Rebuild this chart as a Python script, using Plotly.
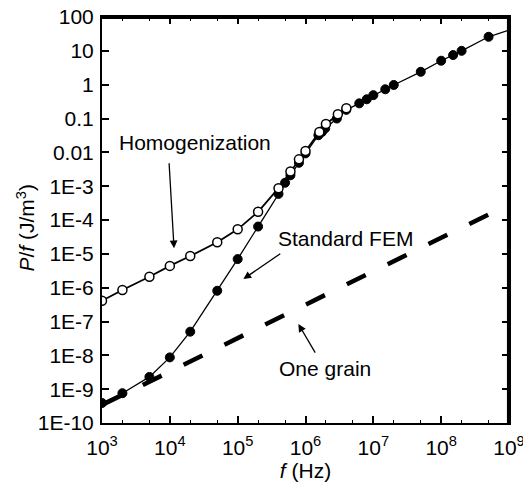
import plotly.graph_objects as go

# Homogenization (open circles)
homog_f = [1e3, 2e3, 5e3, 1e4, 2e4, 5e4, 1e5, 2e5, 4e5, 6e5, 8e5, 1e6, 1.6e6, 2e6, 3e6, 4e6]
homog_p = [4.1e-7, 8.5e-7, 2.1e-6, 4.4e-6, 8.6e-6, 2.2e-5, 5.3e-5, 1.75e-4, 8.7e-4, 2.7e-3,
           6.2e-3, 0.011, 0.04, 0.069, 0.133, 0.2]

# Standard FEM (filled circles)
fem_f = [1e3, 2e3, 5e3, 1e4, 2e4, 5e4, 1e5, 2e5, 4e5, 5e5, 6e5, 8e5, 1e6, 1.55e6, 1.75e6, 1.95e6,
         2.9e6, 4e6, 6.2e6, 8e6, 1e7, 1.5e7, 2e7, 5e7, 1e8, 1.5e8, 2e8, 5e8, 1e9]
fem_p = [3.9e-10, 7.6e-10, 2.3e-9, 8.7e-9, 5e-8, 8.1e-7, 7e-6, 6.4e-5, 5.9e-4, 1.26e-3, 2.1e-3,
         4.9e-3, 9.3e-3, 0.032, 0.04, 0.051, 0.1, 0.18, 0.28, 0.37, 0.49, 0.73, 0.98, 2.4, 5.1,
         7.5, 10, 26, 41]

# One grain (dashed)
grain_f = [1e3, 1e9]
grain_p = [3.4e-10, 2.9e-4]

y_tickvals = [1e2, 1e1, 1, 0.1, 0.01, 1e-3, 1e-4, 1e-5, 1e-6, 1e-7, 1e-8, 1e-9, 1e-10]
y_ticktext = ["100", "10", "1", "0.1", "0.01", "1E-3", "1E-4", "1E-5", "1E-6", "1E-7",
              "1E-8", "1E-9", "1E-10"]
x_tickvals = [1e3, 1e4, 1e5, 1e6, 1e7, 1e8, 1e9]
x_ticktext = ["10<sup>3</sup>", "10<sup>4</sup>", "10<sup>5</sup>", "10<sup>6</sup>",
              "10<sup>7</sup>", "10<sup>8</sup>", "10<sup>9</sup>"]

FONT = "Liberation Sans, Arial, sans-serif"
fig = go.Figure()

fig.add_trace(go.Scatter(x=grain_f, y=grain_p, mode="lines",
                         line=dict(color="black", width=4.5, dash="21px,24.5px"),
                         showlegend=False))
fig.add_trace(go.Scatter(x=fem_f, y=fem_p, mode="lines+markers",
                         line=dict(color="black", width=1.3),
                         marker=dict(color="black", opacity=1,
                                     size=[9] * (len(fem_f) - 1) + [0],
                                     line=dict(color="black", width=1)),
                         showlegend=False))
fig.add_trace(go.Scatter(x=homog_f, y=homog_p, mode="lines+markers", xaxis="x2", yaxis="y2",
                         line=dict(color="black", width=1.8),
                         marker=dict(color="white", opacity=1, size=9,
                                     line=dict(color="black", width=1.5)),
                         showlegend=False))

axis_common = dict(type="log", showgrid=False, zeroline=False, showline=True,
                   linecolor="black", linewidth=2, ticks="inside",
                   ticklen=7, tickwidth=1.5, tickcolor="black", automargin=False,
                   ticklabeloverflow="allow",
                   minor=dict(ticks="inside", ticklen=3.5, tickwidth=1, tickcolor="black",
                              showgrid=False),
                   tickfont=dict(family=FONT, size=21, color="black"))

fig.update_layout(
    xaxis=dict(**axis_common, range=[3, 9], tickvals=x_tickvals, ticktext=x_ticktext,
               ticklabelstandoff=5,
               title=dict(text="<i>f</i> (Hz)",
                          font=dict(family=FONT, size=21, color="black"), standoff=8)),
    yaxis=dict(**axis_common, range=[-10, 2], tickvals=y_tickvals, ticktext=y_ticktext,
               ticklabelstandoff=2),
    xaxis2=dict(**axis_common, range=[3, 9], tickvals=x_tickvals, showticklabels=False,
                overlaying="x", side="top", anchor="y2"),
    yaxis2=dict(**axis_common, range=[-10, 2], tickvals=y_tickvals, showticklabels=False,
                overlaying="y", side="right", anchor="x2"),
)

# plot frame (top and right edges drawn explicitly, slightly inset)
fig.add_shape(type="line", xref="paper", yref="paper", x0=0, x1=1, y0=0.998, y1=0.998,
              line=dict(color="black", width=2.5), layer="above")
fig.add_shape(type="line", xref="paper", yref="paper", x0=0.998, x1=0.998, y0=0, y1=1,
              line=dict(color="black", width=2.5), layer="above")

arrow = dict(showarrow=True, arrowhead=2, arrowsize=1.2, arrowwidth=1.3, arrowcolor="black",
             axref="x", ayref="y", text="")
fig.add_annotation(x=4.062, y=-4.837, ax=3.988, ay=-2.277, **arrow)
fig.add_annotation(x=5.084, y=-5.745, ax=5.650, ay=-4.967, **arrow)
fig.add_annotation(x=5.895, y=-7.075, ax=6.156, ay=-7.962, **arrow)

lab = dict(showarrow=False, font=dict(family=FONT, size=21, color="black"))
fig.add_annotation(x=4.372, y=-1.716, text="Homogenization", **lab)
fig.add_annotation(x=6.596, y=-4.542, text="Standard FEM", **lab)
fig.add_annotation(x=6.285, y=-8.375, text="One grain", **lab)

fig.add_annotation(text="<i>P</i>/<i>f</i> (J/m<sup>3</sup>)", xref="paper", yref="paper",
                   x=-0.189, y=0.4815, xanchor="center", yanchor="middle", textangle=-90,
                   showarrow=False, font=dict(family=FONT, size=21, color="black"))

fig.update_layout(width=523, height=482, margin=dict(l=102, r=14, t=17, b=59),
                  paper_bgcolor="white", plot_bgcolor="white",
                  font=dict(family=FONT, color="black"))

fig.write_html("out.html", config={"displayModeBar": False},
               post_script="document.body.style.margin='0';document.body.style.overflow='hidden';")
